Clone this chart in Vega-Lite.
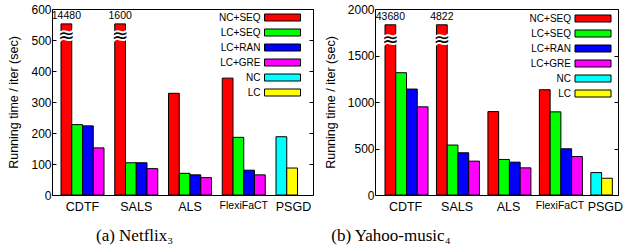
{
  "$schema": "https://vega.github.io/schema/vega-lite/v6.json",
  "padding": {"left": 7, "top": 2, "right": 5, "bottom": 2},
  "background": "white",
  "datasets": {
    "netflix": [
      {"method": "CDTF", "series": "NC+SEQ", "slot": 0, "value": 552, "label": "14480"},
      {"method": "CDTF", "series": "LC+SEQ", "slot": 1, "value": 227},
      {"method": "CDTF", "series": "LC+RAN", "slot": 2, "value": 223},
      {"method": "CDTF", "series": "LC+GRE", "slot": 3, "value": 152},
      {"method": "SALS", "series": "NC+SEQ", "slot": 0, "value": 552, "label": "1600"},
      {"method": "SALS", "series": "LC+SEQ", "slot": 1, "value": 104},
      {"method": "SALS", "series": "LC+RAN", "slot": 2, "value": 104},
      {"method": "SALS", "series": "LC+GRE", "slot": 3, "value": 85},
      {"method": "ALS", "series": "NC+SEQ", "slot": 0, "value": 328},
      {"method": "ALS", "series": "LC+SEQ", "slot": 1, "value": 70},
      {"method": "ALS", "series": "LC+RAN", "slot": 2, "value": 65},
      {"method": "ALS", "series": "LC+GRE", "slot": 3, "value": 56},
      {"method": "FlexiFaCT", "series": "NC+SEQ", "slot": 0, "value": 377},
      {"method": "FlexiFaCT", "series": "LC+SEQ", "slot": 1, "value": 186},
      {"method": "FlexiFaCT", "series": "LC+RAN", "slot": 2, "value": 80},
      {"method": "FlexiFaCT", "series": "LC+GRE", "slot": 3, "value": 65},
      {"method": "PSGD", "series": "NC", "slot": 0, "value": 188},
      {"method": "PSGD", "series": "LC", "slot": 1, "value": 87}
    ],
    "yahoo": [
      {"method": "CDTF", "series": "NC+SEQ", "slot": 0, "value": 1830, "label": "43680"},
      {"method": "CDTF", "series": "LC+SEQ", "slot": 1, "value": 1315},
      {"method": "CDTF", "series": "LC+RAN", "slot": 2, "value": 1139},
      {"method": "CDTF", "series": "LC+GRE", "slot": 3, "value": 948},
      {"method": "SALS", "series": "NC+SEQ", "slot": 0, "value": 1830, "label": "4822"},
      {"method": "SALS", "series": "LC+SEQ", "slot": 1, "value": 537},
      {"method": "SALS", "series": "LC+RAN", "slot": 2, "value": 454},
      {"method": "SALS", "series": "LC+GRE", "slot": 3, "value": 364},
      {"method": "ALS", "series": "NC+SEQ", "slot": 0, "value": 897},
      {"method": "ALS", "series": "LC+SEQ", "slot": 1, "value": 382},
      {"method": "ALS", "series": "LC+RAN", "slot": 2, "value": 353},
      {"method": "ALS", "series": "LC+GRE", "slot": 3, "value": 292},
      {"method": "FlexiFaCT", "series": "NC+SEQ", "slot": 0, "value": 1132},
      {"method": "FlexiFaCT", "series": "LC+SEQ", "slot": 1, "value": 894},
      {"method": "FlexiFaCT", "series": "LC+RAN", "slot": 2, "value": 497},
      {"method": "FlexiFaCT", "series": "LC+GRE", "slot": 3, "value": 414},
      {"method": "PSGD", "series": "NC", "slot": 0, "value": 241},
      {"method": "PSGD", "series": "LC", "slot": 1, "value": 180}
    ]
  },
  "config": {
    "font": "Liberation Sans",
    "view": {"stroke": "black", "strokeWidth": 1},
    "axis": {
      "grid": false,
      "domain": false,
      "labelColor": "black",
      "titleColor": "black",
      "tickColor": "black",
      "labelFont": "Liberation Sans",
      "titleFont": "Liberation Sans",
      "titleFontWeight": "normal",
      "labelFontSize": 12,
      "titleFontSize": 12.5
    },
    "legend": {
      "orient": "none",
      "title": null,
      "padding": 0,
      "symbolType": "M-3.6,-0.7H3.6V0.7H-3.6Z",
      "symbolSize": 100,
      "symbolStrokeColor": "black",
      "symbolStrokeWidth": 1,
      "symbolOpacity": 1,
      "labelFontSize": 10,
      "labelFont": "Liberation Sans",
      "labelColor": "black",
      "labelAlign": "right",
      "labelOffset": -27.5,
      "rowPadding": 4
    }
  },
  "resolve": {"scale": {"color": "independent"}, "legend": {"color": "independent"}},
  "spacing": 9,
  "hconcat": [
    {
      "width": 261,
      "height": 186,
      "title": {"text": "(a) Netflix₃", "orient": "bottom", "anchor": "start", "dx": 88, "offset": 15, "font": "Liberation Serif", "fontSize": 17, "fontWeight": "normal", "color": "black"},
      "data": {"name": "netflix"},
      "resolve": {"axis": {"y": "independent"}},
      "layer": [
        {
          "mark": {"type": "bar", "stroke": "black", "strokeWidth": 1},
          "encoding": {
            "x": {"field": "method", "type": "nominal", "sort": ["CDTF", "SALS", "ALS", "FlexiFaCT", "PSGD"],
                  "scale": {"range": [9, 267], "paddingInner": 0.2, "paddingOuter": 0},
                  "axis": {"title": null, "labelAngle": 0, "ticks": false, "labelPadding": 5,
                           "labelOffset": {"condition": {"test": "datum.value === 'PSGD'", "value": -4}, "value": 0},
                           "labelFontSize": {"condition": {"test": "datum.value === 'FlexiFaCT'", "value": 10.5}, "value": 12.5}}},
            "xOffset": {"field": "slot", "type": "ordinal", "scale": {"domain": [0, 1, 2, 3], "paddingInner": 0, "paddingOuter": 0}},
            "y": {"field": "value", "type": "quantitative", "scale": {"domain": [0, 600], "nice": false},
                  "axis": {"title": "Running time / iter (sec)", "values": [0, 100, 200, 300, 400, 500, 600], "format": "d", "tickSize": -4, "labelPadding": 5, "titlePadding": 10}},
            "color": {"field": "series", "type": "nominal",
                      "scale": {"domain": ["NC+SEQ", "LC+SEQ", "LC+RAN", "LC+GRE", "NC", "LC"], "range": ["#ff0000", "#00ff00", "#0000ff", "#ff00ff", "#00ffff", "#ffff00"]},
                      "legend": {"legendX": 225, "legendY": 3}}
          }
        },
        {
          "transform": [{"filter": "isValid(datum.label)"}],
          "mark": {"type": "text", "fontSize": 10.5, "baseline": "bottom", "dy": -3, "color": "black"},
          "encoding": {
            "x": {"field": "method", "type": "nominal", "sort": ["CDTF", "SALS", "ALS", "FlexiFaCT", "PSGD"]},
            "xOffset": {"field": "slot", "type": "ordinal"},
            "y": {"field": "value", "type": "quantitative",
                  "axis": {"orient": "right", "title": null, "labels": false, "values": [0, 100, 200, 300, 400, 500, 600], "tickSize": -4}},
            "text": {"field": "label"}
          }
        },
        {
          "transform": [{"filter": "isValid(datum.label)"}],
          "mark": {"type": "text", "text": "≈", "font": "DejaVu Sans", "fontSize": 20, "baseline": "middle", "fill": "black", "stroke": "white", "strokeWidth": 4},
          "encoding": {
            "x": {"field": "method", "type": "nominal", "sort": ["CDTF", "SALS", "ALS", "FlexiFaCT", "PSGD"]},
            "xOffset": {"field": "slot", "type": "ordinal"},
            "y": {"datum": 512, "type": "quantitative", "axis": null}
          }
        },
        {
          "transform": [{"filter": "isValid(datum.label)"}],
          "mark": {"type": "text", "text": "≈", "font": "DejaVu Sans", "fontSize": 20, "baseline": "middle", "fill": "black"},
          "encoding": {
            "x": {"field": "method", "type": "nominal", "sort": ["CDTF", "SALS", "ALS", "FlexiFaCT", "PSGD"]},
            "xOffset": {"field": "slot", "type": "ordinal"},
            "y": {"datum": 512, "type": "quantitative", "axis": null}
          }
        }
      ]
    },
    {
      "width": 243,
      "height": 186,
      "title": {"text": "(b) Yahoo-music₄", "orient": "bottom", "anchor": "start", "dx": 7, "offset": 15, "font": "Liberation Serif", "fontSize": 17, "fontWeight": "normal", "color": "black"},
      "data": {"name": "yahoo"},
      "resolve": {"axis": {"y": "independent"}},
      "layer": [
        {
          "mark": {"type": "bar", "stroke": "black", "strokeWidth": 1},
          "encoding": {
            "x": {"field": "method", "type": "nominal", "sort": ["CDTF", "SALS", "ALS", "FlexiFaCT", "PSGD"],
                  "scale": {"range": [10, 257], "paddingInner": 0.2, "paddingOuter": 0},
                  "axis": {"title": null, "labelAngle": 0, "ticks": false, "labelPadding": 5,
                           "labelOffset": {"condition": {"test": "datum.value === 'PSGD'", "value": -6}, "value": 0},
                           "labelFontSize": {"condition": {"test": "datum.value === 'FlexiFaCT'", "value": 10.5}, "value": 12.5}}},
            "xOffset": {"field": "slot", "type": "ordinal", "scale": {"domain": [0, 1, 2, 3], "paddingInner": 0, "paddingOuter": 0}},
            "y": {"field": "value", "type": "quantitative", "scale": {"domain": [0, 2000], "nice": false},
                  "axis": {"title": "Running time / iter (sec)", "values": [0, 500, 1000, 1500, 2000], "format": "d", "tickSize": -4, "labelPadding": 5, "titlePadding": 10}},
            "color": {"field": "series", "type": "nominal",
                      "scale": {"domain": ["NC+SEQ", "LC+SEQ", "LC+RAN", "LC+GRE", "NC", "LC"], "range": ["#ff0000", "#00ff00", "#0000ff", "#ff00ff", "#00ffff", "#ffff00"]},
                      "legend": {"legendX": 212.5, "legendY": 4}}
          }
        },
        {
          "transform": [{"filter": "isValid(datum.label)"}],
          "mark": {"type": "text", "fontSize": 10.5, "baseline": "bottom", "dy": -3, "color": "black"},
          "encoding": {
            "x": {"field": "method", "type": "nominal", "sort": ["CDTF", "SALS", "ALS", "FlexiFaCT", "PSGD"]},
            "xOffset": {"field": "slot", "type": "ordinal"},
            "y": {"field": "value", "type": "quantitative",
                  "axis": {"orient": "right", "title": null, "labels": false, "values": [0, 500, 1000, 1500, 2000], "tickSize": -4}},
            "text": {"field": "label"}
          }
        },
        {
          "transform": [{"filter": "isValid(datum.label)"}],
          "mark": {"type": "text", "text": "≈", "font": "DejaVu Sans", "fontSize": 20, "baseline": "middle", "fill": "black", "stroke": "white", "strokeWidth": 4},
          "encoding": {
            "x": {"field": "method", "type": "nominal", "sort": ["CDTF", "SALS", "ALS", "FlexiFaCT", "PSGD"]},
            "xOffset": {"field": "slot", "type": "ordinal"},
            "y": {"datum": 1665, "type": "quantitative", "axis": null}
          }
        },
        {
          "transform": [{"filter": "isValid(datum.label)"}],
          "mark": {"type": "text", "text": "≈", "font": "DejaVu Sans", "fontSize": 20, "baseline": "middle", "fill": "black"},
          "encoding": {
            "x": {"field": "method", "type": "nominal", "sort": ["CDTF", "SALS", "ALS", "FlexiFaCT", "PSGD"]},
            "xOffset": {"field": "slot", "type": "ordinal"},
            "y": {"datum": 1665, "type": "quantitative", "axis": null}
          }
        }
      ]
    }
  ]
}
